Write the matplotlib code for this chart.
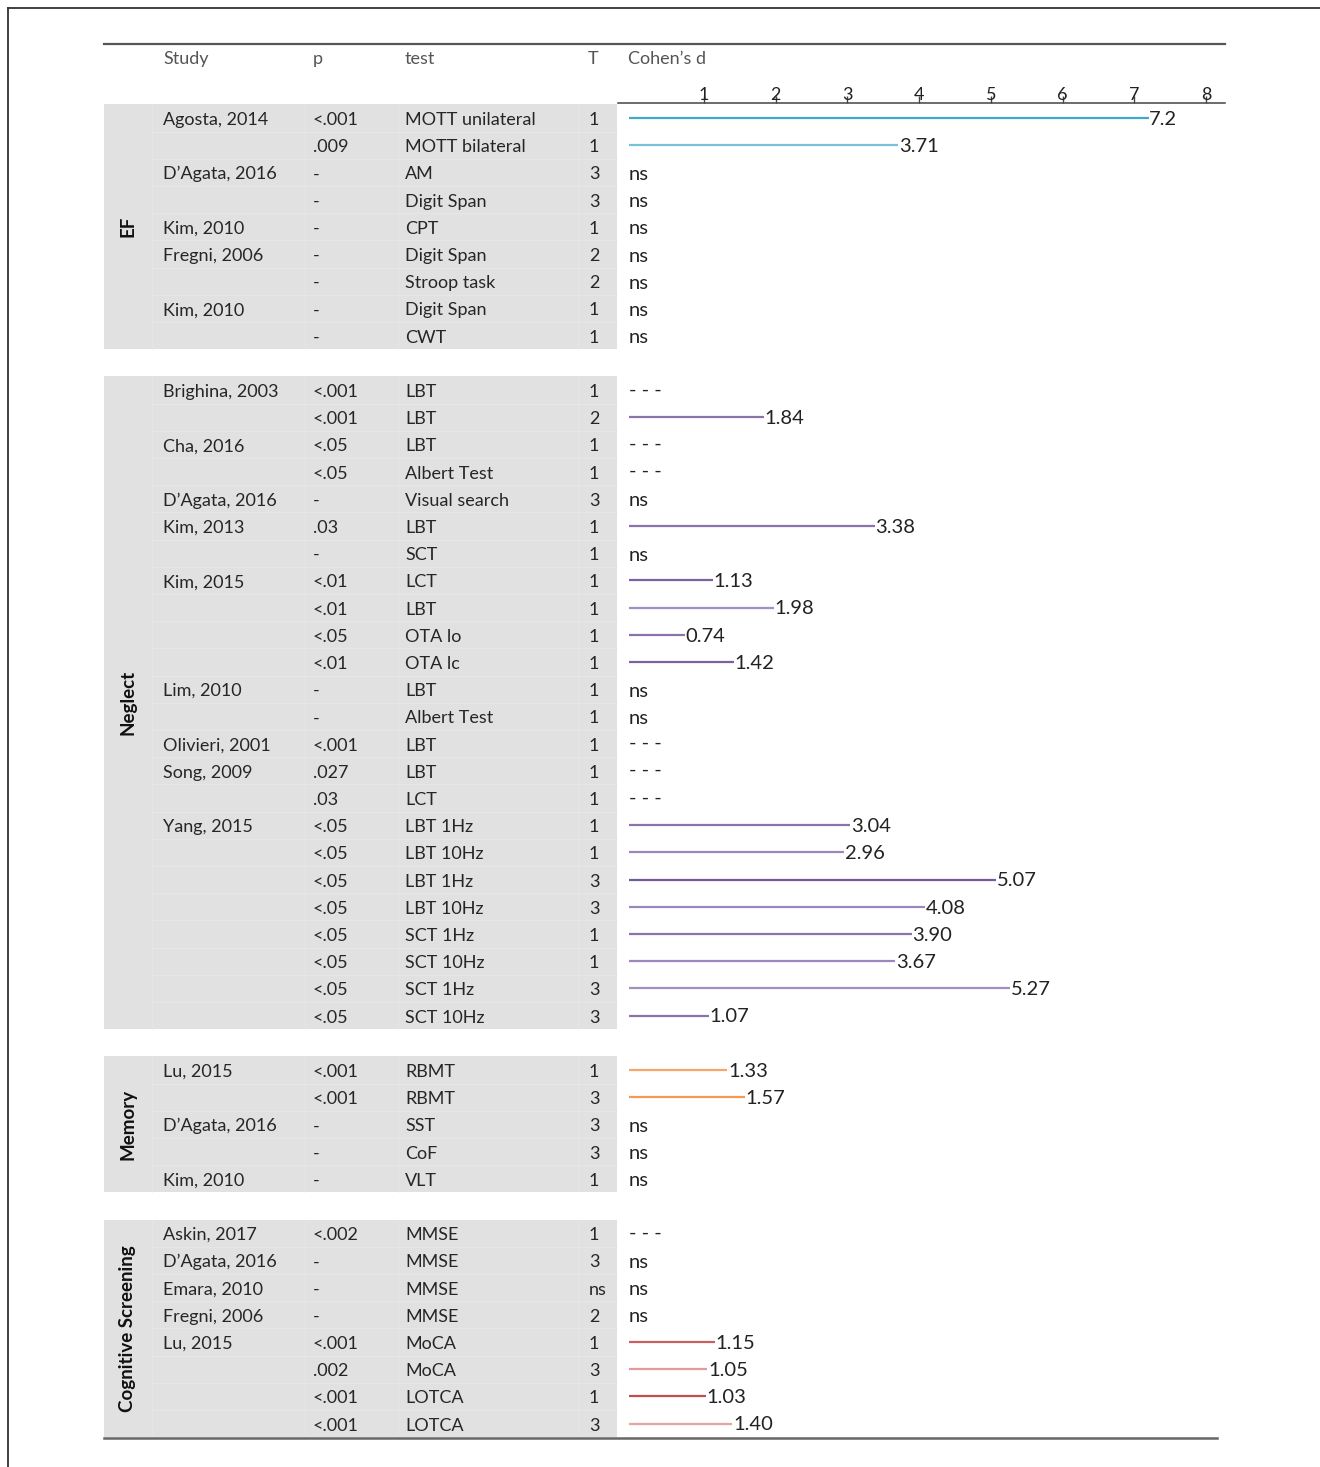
import matplotlib
matplotlib.use("Agg")
import matplotlib.pyplot as plt
from matplotlib.patches import Rectangle
from matplotlib.lines import Line2D

plt.rcParams['font.family'] = ['Lato', 'DejaVu Sans']

# ---------------- data ----------------
group_names = ["EF", "Neglect", "Memory", "Cognitive Screening"]

ef_study = ["Agosta, 2014", "", "D\u2019Agata, 2016", "", "Kim, 2010", "Fregni, 2006", "", "Kim, 2010", ""]
ef_p = ["<.001", ".009", "-", "-", "-", "-", "-", "-", "-"]
ef_test = ["MOTT unilateral", "MOTT bilateral", "AM", "Digit Span", "CPT", "Digit Span", "Stroop task", "Digit Span", "CWT"]
ef_t = ["1", "1", "3", "3", "1", "2", "2", "1", "1"]
ef_d = ["7.2", "3.71", "ns", "ns", "ns", "ns", "ns", "ns", "ns"]

neg_study = ["Brighina, 2003", "", "Cha, 2016", "", "D\u2019Agata, 2016", "Kim, 2013", "", "Kim, 2015", "", "", "",
             "Lim, 2010", "", "Olivieri, 2001", "Song, 2009", "", "Yang, 2015", "", "", "", "", "", "", ""]
neg_p = ["<.001", "<.001", "<.05", "<.05", "-", ".03", "-", "<.01", "<.01", "<.05", "<.01",
         "-", "-", "<.001", ".027", ".03", "<.05", "<.05", "<.05", "<.05", "<.05", "<.05", "<.05", "<.05"]
neg_test = ["LBT", "LBT", "LBT", "Albert Test", "Visual search", "LBT", "SCT", "LCT", "LBT", "OTA lo", "OTA lc",
            "LBT", "Albert Test", "LBT", "LBT", "LCT", "LBT 1Hz", "LBT 10Hz", "LBT 1Hz", "LBT 10Hz",
            "SCT 1Hz", "SCT 10Hz", "SCT 1Hz", "SCT 10Hz"]
neg_t = ["1", "2", "1", "1", "3", "1", "1", "1", "1", "1", "1", "1", "1", "1", "1", "1",
         "1", "1", "3", "3", "1", "1", "3", "3"]
neg_d = ["---", "1.84", "---", "---", "ns", "3.38", "ns", "1.13", "1.98", "0.74", "1.42", "ns", "ns",
         "---", "---", "---", "3.04", "2.96", "5.07", "4.08", "3.90", "3.67", "5.27", "1.07"]

mem_study = ["Lu, 2015", "", "D\u2019Agata, 2016", "", "Kim, 2010"]
mem_p = ["<.001", "<.001", "-", "-", "-"]
mem_test = ["RBMT", "RBMT", "SST", "CoF", "VLT"]
mem_t = ["1", "3", "3", "3", "1"]
mem_d = ["1.33", "1.57", "ns", "ns", "ns"]

cog_study = ["Askin, 2017", "D\u2019Agata, 2016", "Emara, 2010", "Fregni, 2006", "Lu, 2015", "", "", ""]
cog_p = ["<.002", "-", "-", "-", "<.001", ".002", "<.001", "<.001"]
cog_test = ["MMSE", "MMSE", "MMSE", "MMSE", "MoCA", "MoCA", "LOTCA", "LOTCA"]
cog_t = ["1", "3", "ns", "2", "1", "3", "1", "3"]
cog_d = ["---", "ns", "ns", "ns", "1.15", "1.05", "1.03", "1.40"]

axis_ticks = [1, 2, 3, 4, 5, 6, 7, 8]

# ---------------- styling ----------------
group_colors = [
    ["#3fa9c9", "#74c3da"] + ["#3fa9c9"] * 7,
    ["#8a73ad"] * 7 + ["#7d62a3", "#a18fc2", "#8a73ad", "#7d62a3"] + ["#8a73ad"] * 5
    + ["#8a73ad", "#9b86bd", "#735a9a", "#9b86bd", "#8a73ad", "#9b86bd", "#a18fc2", "#8a73ad"],
    ["#f6a66a", "#f59a52", "#f59a52", "#f59a52", "#f59a52"],
    ["#c0504d"] * 4 + ["#c9605d", "#e39a98", "#c0504d", "#e6a3a1"],
]

groups = [
    (ef_study, ef_p, ef_test, ef_t, ef_d),
    (neg_study, neg_p, neg_test, neg_t, neg_d),
    (mem_study, mem_p, mem_test, mem_t, mem_d),
    (cog_study, cog_p, cog_test, cog_t, cog_d),
]

W, H = 1320, 1467
ROW0, ROWH = 118.0, 27.2          # pixel centre of first row, row pitch
TXT_DY = 0.07                     # nudge text down onto the row centre


def row_of(pix):
    return (pix - ROW0) / ROWH


fig = plt.figure(figsize=(W / 100, H / 100), dpi=100)
fig.patch.set_facecolor("white")

# table layer: x in pixels, y in row units
ax = fig.add_axes([0, 0, 1, 1])
ax.set_xlim(0, W)
ax.set_ylim(row_of(H), row_of(0))
ax.axis("off")

# effect-size layer: x in Cohen's d, y in row units
AX_L, AX_R, AX_T, AX_B = 618, 1225, 103, 1438
D0, DPX = 632.0, 71.75
axd = fig.add_axes([AX_L / W, 1 - AX_B / H, (AX_R - AX_L) / W, (AX_B - AX_T) / H])
axd.set_xlim((AX_L - D0) / DPX, (AX_R - D0) / DPX)
axd.set_ylim(row_of(AX_B), row_of(AX_T))
axd.patch.set_alpha(0)
for s in ["left", "right", "bottom"]:
    axd.spines[s].set_visible(False)
axd.spines["top"].set_color("#444444")
axd.spines["top"].set_linewidth(1.1)
axd.set_yticks([])
axd.xaxis.set_ticks_position("top")
axd.set_xticks(axis_ticks)
axd.set_xticklabels([str(v) for v in axis_ticks])
axd.tick_params(axis="x", direction="out", length=5, width=1.0, color="#444444",
                pad=-5, labelsize=13, labelcolor="#222222")

# outer frame
ax.add_line(Line2D([8, 8], [row_of(8), row_of(H + 10)], color="#333333", lw=1.3))
ax.add_line(Line2D([8, W + 10], [row_of(8), row_of(8)], color="#333333", lw=1.3))

# header rules
ax.add_line(Line2D([104, 1225], [row_of(44)] * 2, color="#555555", lw=1.6))
ax.add_line(Line2D([104, 1217], [row_of(1438)] * 2, color="#666666", lw=1.8))

hdr_y = row_of(57) + TXT_DY
hdr_kw = dict(fontsize=13, color="#555555", va="center", ha="left")
ax.text(163, hdr_y, "Study", **hdr_kw)
ax.text(313, hdr_y, "p", **hdr_kw)
ax.text(405, hdr_y, "test", **hdr_kw)
ax.text(588, hdr_y, "T", **hdr_kw)
ax.text(628, hdr_y, "Cohen\u2019s d", **hdr_kw)

GREY = "#e1e1e1"
SEP = "#e8e8e8"
col_edges = [152, 305, 398, 578]
txt_kw = dict(fontsize=13, color="#262626", va="center", ha="left")
eff_kw = dict(fontsize=14.5, color="#222222", va="center", ha="left")

start = 0
for gi, (study, pv, test, tp, dv) in enumerate(groups):
    n = len(study)
    top, bot = start - 0.5, start + n - 0.5
    ax.add_patch(Rectangle((104, top), 617 - 104, n, facecolor=GREY, edgecolor="none", zorder=0))
    # faint cell borders
    for k in range(1, n):
        ax.add_line(Line2D([152, 617], [top + k] * 2, color=SEP, lw=0.6, zorder=1))
    for xe in col_edges:
        ax.add_line(Line2D([xe, xe], [top, bot], color=SEP, lw=0.5, zorder=1))
    ax.text(128, (top + bot) / 2, group_names[gi], rotation=90, fontsize=13.5,
            fontweight="bold", color="#111111", ha="center", va="center")
    for k in range(n):
        r = start + k
        ty = r + TXT_DY
        ax.text(163, ty, study[k], **txt_kw)
        ax.text(313, ty, pv[k], **txt_kw)
        ax.text(405, ty, test[k], **txt_kw)
        ax.text(589, ty, tp[k], **txt_kw)
        lab = dv[k]
        if lab == "ns":
            ax.text(629, r + 0.08, "ns", **eff_kw)
        elif lab == "---":
            ax.text(629, r, "- - -", **eff_kw)
        else:
            val = float(lab)
            axd.hlines(r, -0.04, val, color=group_colors[gi][k], lw=1.6)
            axd.text(val + 0.01, r + 0.05, lab, **eff_kw)
    start += n + 1

fig.savefig("out.png", dpi=100, facecolor="white")
